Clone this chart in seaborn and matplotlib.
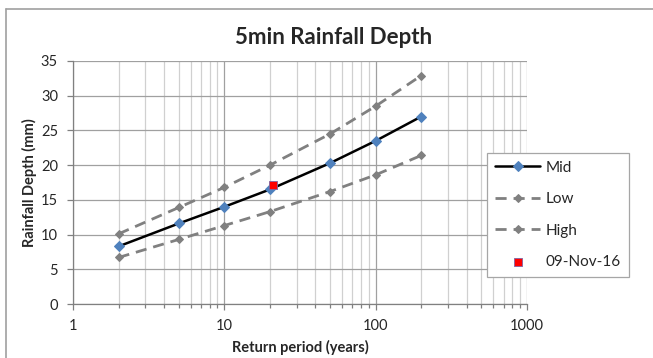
import matplotlib
matplotlib.use("Agg")
import matplotlib.pyplot as plt
import matplotlib.lines as mlines
import seaborn as sns
import pandas as pd
from matplotlib.ticker import LogLocator, FixedLocator, NullFormatter

sns.set_theme(style="white")
plt.rcParams['font.family'] = ['Lato', 'DejaVu Sans']

return_period = [2, 5, 10, 20, 50, 100, 200]
mid = [8.3, 11.6, 14.0, 16.5, 20.3, 23.5, 27.0]
low = [6.7, 9.3, 11.3, 13.3, 16.2, 18.6, 21.4]
high = [10.1, 13.9, 16.8, 20.0, 24.5, 28.5, 32.9]
event_x = [21]
event_y = [17.2]
event_label = "09-Nov-16"
x_ticks = [1, 10, 100, 1000]
x_tick_labels = ["1", "10", "100", "1000"]

W, H = 653, 358
fig = plt.figure(figsize=(W / 100, H / 100), dpi=100)
ax = fig.add_axes([73 / W, 1 - 304 / H, 454 / W, 243 / H])

df = pd.DataFrame({"x": return_period, "Mid": mid, "Low": low, "High": high})

sns.lineplot(data=df, x="x", y="Mid", ax=ax, color="black", lw=1.8,
             marker="D", markersize=5, markerfacecolor="#4f81bd",
             markeredgecolor="#4f81bd", label="Mid", zorder=4)
sns.lineplot(data=df, x="x", y="Low", ax=ax, color="#808080", lw=2.0,
             linestyle=(0, (4, 2.5)), marker="D", markersize=4,
             markerfacecolor="#808080", markeredgecolor="#808080", label="Low", zorder=3)
sns.lineplot(data=df, x="x", y="High", ax=ax, color="#808080", lw=2.0,
             linestyle=(0, (4, 2.5)), marker="D", markersize=4,
             markerfacecolor="#808080", markeredgecolor="#808080", label="High", zorder=3)
sns.scatterplot(x=event_x, y=event_y, ax=ax, marker="s", s=30, color="red",
                edgecolor="#8064a2", linewidth=0.6, label=event_label, zorder=5)

ax.set_xscale("log")
ax.set_xlim(1, 1000)
ax.set_ylim(0, 35)
ax.set_yticks(range(0, 36, 5))
ax.xaxis.set_major_locator(FixedLocator(x_ticks))
ax.set_xticklabels(x_tick_labels)
ax.xaxis.set_minor_locator(LogLocator(base=10, subs=range(2, 10)))
ax.xaxis.set_minor_formatter(NullFormatter())

ax.grid(True, which="major", axis="both", color="#a0a0a0", lw=0.9)
ax.grid(True, which="minor", axis="x", color="#d0d0d0", lw=0.9)
ax.set_axisbelow(True)

for s in ["top", "right"]:
    ax.spines[s].set_visible(False)
for s in ["left", "bottom"]:
    ax.spines[s].set_color("#808080")
    ax.spines[s].set_linewidth(0.9)

ax.tick_params(axis="both", which="major", labelsize=10.5, length=4.3, width=0.9,
               color="#808080", direction="out", left=True, bottom=True, pad=6.5)
ax.tick_params(axis="x", which="minor", length=3, width=0.9, color="#808080", bottom=True)

ax.set_xlabel("Return period (years)", fontsize=10.5, fontweight="bold", labelpad=5)
ax.set_ylabel("Rainfall Depth (mm)", fontsize=10.5, fontweight="bold", labelpad=3)
fig.text(334 / W, 1 - 37 / H, "5min Rainfall Depth", fontsize=16, fontweight="bold",
         ha="center", va="center")

leg = ax.legend(loc="upper left", bbox_to_anchor=(414 / 454, (304 - 153) / 243),
                borderaxespad=0, frameon=True, fontsize=11, handlelength=3.0,
                handletextpad=0.35, labelspacing=1.15, borderpad=0.5,
                fancybox=False, framealpha=1)
leg.get_frame().set_linewidth(0.9)
leg.get_frame().set_edgecolor("#a6a6a6")

fig.add_artist(mlines.Line2D([6 / W, 1], [1 - 9 / H, 1 - 9 / H], transform=fig.transFigure,
                             color="#a0a0a0", lw=1.2))
fig.add_artist(mlines.Line2D([6 / W, 6 / W], [0, 1 - 9 / H], transform=fig.transFigure,
                             color="#a0a0a0", lw=1.2))

fig.savefig("out.png", dpi=100)
